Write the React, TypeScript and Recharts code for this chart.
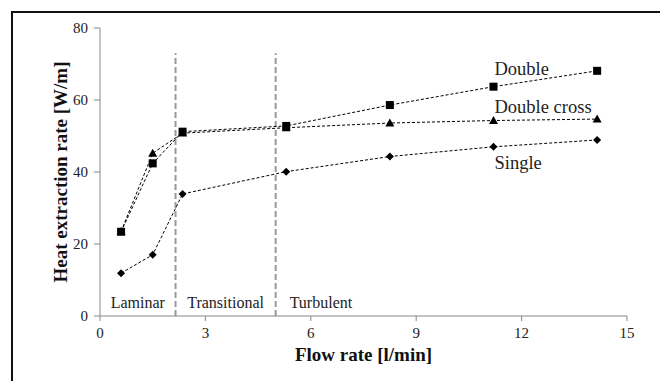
import React from 'react';
import {
  LineChart,
  Line,
  XAxis,
  YAxis,
  ReferenceLine,
  ReferenceArea,
  Label,
} from 'recharts';

// flow rate [l/min] of the measured points
const flowRates = [0.6, 1.5, 2.35, 5.3, 8.25, 11.2, 14.15];
// heat extraction rate [W/m]
const singleValues = [11.9, 17.0, 33.9, 40.1, 44.3, 47.0, 48.9];
const doubleValues = [23.4, 42.4, 51.2, 52.8, 58.6, 63.7, 68.1];
const doubleCrossValues = [23.5, 45.2, 50.8, 52.3, 53.6, 54.3, 54.7];

const xTicks = [0, 3, 6, 9, 12, 15];
const yTicks = [0, 20, 40, 60, 80];

// flow regime borders and names
const regimeBorders = [2.15, 5.0];
const regimeBorderTop = 73;
const regimeNames = ['Laminar', 'Transitional', 'Turbulent'];
const regimeStarts = [0, 2.15, 5.0];
const regimeEnds = [2.15, 5.0, 15];

const xTitle = 'Flow rate [l/min]';
const yTitle = 'Heat extraction rate [W/m]';

const rows = flowRates.map((flow, i) => ({
  flow,
  single: singleValues[i],
  double: doubleValues[i],
  doubleCross: doubleCrossValues[i],
}));

const FONT = '"Liberation Serif", "Times New Roman", serif';

type Shape = 'square' | 'triangle' | 'diamond';

const makeDot = (shape: Shape) => (props: any) => {
  const { cx, cy, index } = props;
  if (cx == null || cy == null) return <g key={index} />;
  if (shape === 'square') {
    return <rect key={index} x={cx - 4} y={cy - 4} width={8} height={8} fill="#000" />;
  }
  if (shape === 'triangle') {
    return (
      <polygon
        key={index}
        points={`${cx},${cy - 4.5} ${cx + 4.5},${cy + 3.5} ${cx - 4.5},${cy + 3.5}`}
        fill="#000"
      />
    );
  }
  return (
    <polygon
      key={index}
      points={`${cx},${cy - 4} ${cx + 4},${cy} ${cx},${cy + 4} ${cx - 4},${cy}`}
      fill="#000"
    />
  );
};

// series name written next to the 6th point
const makeSeriesLabel = (name: string, dy: number) => (props: any) => {
  const { x, y, index } = props;
  if (index !== 5) return <g key={index} />;
  return (
    <text
      key={index}
      x={x + 1}
      y={y + dy}
      dominantBaseline="central"
      style={{ fontFamily: FONT, fontSize: 18.5 }}
      fill="#222"
    >
      {name}
    </text>
  );
};

const makeRegimeLabel = (name: string, i: number) => (props: any) => {
  const { x, y, width, height } = props.viewBox;
  const left = i === 2;
  return (
    <text
      x={left ? x + 14 : x + width / 2}
      y={y + height - 8}
      textAnchor={left ? 'start' : 'middle'}
      style={{ fontFamily: FONT, fontSize: 16 }}
      fill="#222"
    >
      {name}
    </text>
  );
};

const XTick = (props: any) => {
  const { x, y, payload } = props;
  return (
    <text x={x} y={y} dy="0.71em" textAnchor="middle" fill="#222" style={{ fontFamily: FONT, fontSize: 15 }}>
      {payload.value}
    </text>
  );
};

const YTick = (props: any) => {
  const { x, y, payload } = props;
  return (
    <text x={x} y={y} dy="0.35em" textAnchor="end" fill="#222" style={{ fontFamily: FONT, fontSize: 15 }}>
      {payload.value}
    </text>
  );
};

const renderXTitle = (props: any) => {
  const { x, y, width } = props.viewBox;
  return (
    <text
      x={x + width / 2}
      y={y + 45}
      textAnchor="middle"
      style={{ fontFamily: FONT, fontSize: 19, fontWeight: 'bold' }}
      fill="#111"
    >
      {xTitle}
    </text>
  );
};

const renderYTitle = (props: any) => {
  const { x, y, height } = props.viewBox;
  return (
    <text
      transform={`translate(${x + 27}, ${y + height / 2}) rotate(-90)`}
      textAnchor="middle"
      style={{ fontFamily: FONT, fontSize: 19, fontWeight: 'bold' }}
      fill="#111"
    >
      {yTitle}
    </text>
  );
};

export default function App() {
  return (
    <div
      style={{
        position: 'absolute',
        left: 0,
        top: 0,
        width: 660,
        height: 381,
        overflow: 'hidden',
        background: '#fff',
        fontFamily: FONT,
      }}
    >
      <div
        style={{
          position: 'absolute',
          left: 11,
          top: 11,
          width: 700,
          height: 400,
          borderTop: '2px solid #111',
          borderLeft: '2px solid #111',
        }}
      />
      <div style={{ position: 'absolute', left: 0, top: 0 }}>
        <LineChart
          width={660}
          height={381}
          data={rows}
          margin={{ top: 28, right: 33, bottom: 15, left: 40 }}
        >
          <XAxis
            dataKey="flow"
            type="number"
            domain={[0, 15]}
            ticks={xTicks}
            stroke="#888"
            tick={XTick}
            tickSize={5}
            tickMargin={6}
            height={50}
          >
            <Label content={renderXTitle} />
          </XAxis>
          <YAxis
            type="number"
            domain={[0, 80]}
            ticks={yTicks}
            stroke="#888"
            tick={YTick}
            tickSize={6}
            tickMargin={6}
            width={60}
          >
            <Label content={renderYTitle} />
          </YAxis>
          {regimeNames.map((name, i) => (
            <ReferenceArea
              key={name}
              x1={regimeStarts[i]}
              x2={regimeEnds[i]}
              fill="none"
              fillOpacity={0}
              stroke="none"
              label={makeRegimeLabel(name, i)}
            />
          ))}
          {regimeBorders.map((b) => (
            <ReferenceLine
              key={b}
              segment={[
                { x: b, y: 0 },
                { x: b, y: regimeBorderTop },
              ]}
              stroke="#999"
              strokeWidth={2}
              strokeDasharray="6 3"
            />
          ))}
          <Line
            dataKey="single"
            stroke="#000"
            strokeWidth={1}
            strokeDasharray="3 2"
            dot={makeDot('diamond')}
            activeDot={false}
            label={makeSeriesLabel('Single', 16)}
            isAnimationActive={false}
          />
          <Line
            dataKey="doubleCross"
            stroke="#000"
            strokeWidth={1}
            strokeDasharray="3 2"
            dot={makeDot('triangle')}
            activeDot={false}
            label={makeSeriesLabel('Double cross', -14)}
            isAnimationActive={false}
          />
          <Line
            dataKey="double"
            stroke="#000"
            strokeWidth={1}
            strokeDasharray="3 2"
            dot={makeDot('square')}
            activeDot={false}
            label={makeSeriesLabel('Double', -18)}
            isAnimationActive={false}
          />
        </LineChart>
      </div>
    </div>
  );
}
